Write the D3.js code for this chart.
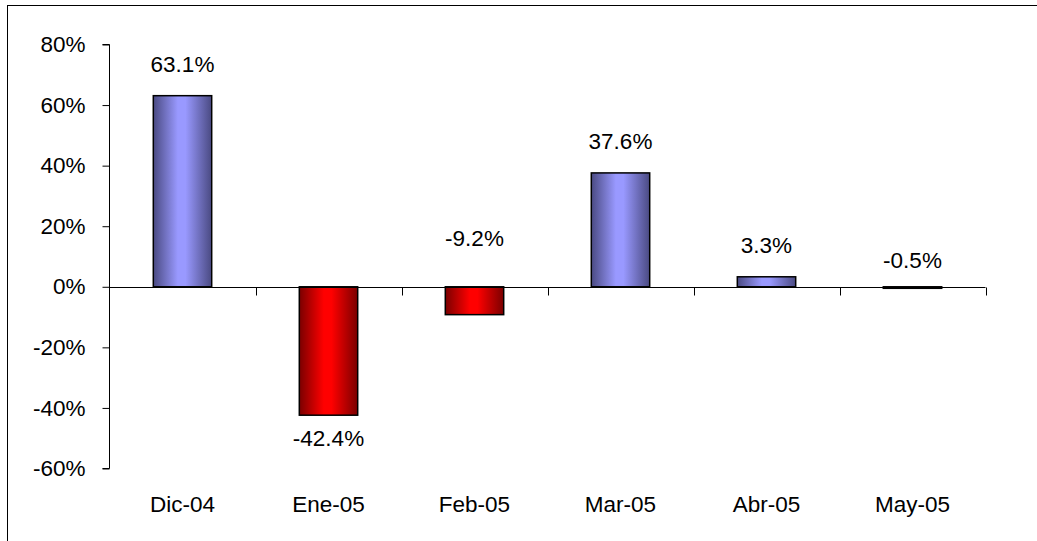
<!DOCTYPE html>
<html>
<head>
<meta charset="utf-8">
<script src="https://cdn.jsdelivr.net/npm/d3@7"></script>
<style>
  html, body { margin: 0; padding: 0; background: #fff; }
  svg { display: block; }
  text { font-family: Arial, "Liberation Sans", sans-serif; fill: #000; }
</style>
</head>
<body>
<svg id="chart" width="1037" height="541"></svg>
<script>
const categories = ["Dic-04", "Ene-05", "Feb-05", "Mar-05", "Abr-05", "May-05"];
const values = [63.1, -42.4, -9.2, 37.6, 3.3, -0.5];
const labels = ["63.1%", "-42.4%", "-9.2%", "37.6%", "3.3%", "-0.5%"];
// where each data label was placed on the chart, in % units (labels were hand-placed)
const labelAt = [63.1, -42.4, 5.6, 37.6, 3.3, -1.6];
const labelSide = ["above", "below", "above", "above", "above", "above"];
const yTicks = [80, 60, 40, 20, 0, -20, -40, -60];

const svg = d3.select("#chart");
const W = 1037, H = 541;

// outer chart border (extends past the right/bottom edge)
svg.append("rect")
  .attr("x", 7.5).attr("y", 5.5)
  .attr("width", W + 20).attr("height", H + 20)
  .attr("fill", "none").attr("stroke", "#000").attr("stroke-width", 1);

const plot = { left: 109.5, right: 985.5, top: 44.5, bottom: 468.5 };

const x = d3.scaleBand().domain(categories)
  .range([plot.left, plot.right]).paddingInner(0.6).paddingOuter(0.3);
const xb = d3.scaleBand().domain(categories).range([plot.left, plot.right]);
const y = d3.scaleLinear().domain([-60, 80]).range([plot.bottom, plot.top]);

// gradients
const defs = svg.append("defs");
function grad(id, dark, light) {
  const g = defs.append("linearGradient").attr("id", id)
    .attr("x1", "0").attr("x2", "1").attr("y1", "0").attr("y2", "0");
  g.append("stop").attr("offset", "0").attr("stop-color", dark);
  g.append("stop").attr("offset", "0.42").attr("stop-color", light);
  g.append("stop").attr("offset", "0.55").attr("stop-color", light);
  g.append("stop").attr("offset", "1").attr("stop-color", dark);
}
grad("gBlue", "#4a4a82", "#9999ff");
grad("gRed", "#7a0000", "#ff0000");

// y axis
const yAxis = d3.axisLeft(y).tickValues(yTicks).tickSize(7).tickPadding(17)
  .tickFormat(d => d + "%");
const ya = svg.append("g").attr("transform", `translate(${plot.left},0)`).call(yAxis);
ya.select(".domain").attr("stroke", "#000").attr("d", `M-7,${plot.top}H0V${plot.bottom}H-7`);
ya.selectAll(".tick line").attr("stroke", "#000");
ya.selectAll(".tick text").attr("font-size", 22.5)
  .attr("font-family", "Arial, 'Liberation Sans', sans-serif").attr("fill", "#000");

// bars
svg.append("g").selectAll("rect").data(values).join("rect")
  .attr("x", (d, i) => x(categories[i]))
  .attr("width", x.bandwidth())
  .attr("y", d => y(Math.max(0, d)))
  .attr("height", d => Math.abs(y(d) - y(0)))
  .attr("fill", d => d >= 0 ? "url(#gBlue)" : "url(#gRed)")
  .attr("stroke", "#000").attr("stroke-width", 1.5);

// x axis line at zero, with category boundary ticks hanging down
const y0 = Math.round(y(0)) + 0.5;
svg.append("line").attr("x1", plot.left).attr("x2", plot.right)
  .attr("y1", y0).attr("y2", y0).attr("stroke", "#000");
const bounds = categories.map(c => xb(c)).concat([plot.right]).slice(1);
svg.append("g").selectAll("line").data(bounds).join("line")
  .attr("x1", d => Math.round(d) + 0.5).attr("x2", d => Math.round(d) + 0.5)
  .attr("y1", y0).attr("y2", y0 + 8).attr("stroke", "#000");

// category labels
svg.append("g").selectAll("text").data(categories).join("text")
  .attr("x", d => xb(d) + xb.bandwidth() / 2)
  .attr("y", 512)
  .attr("text-anchor", "middle")
  .attr("font-size", 22.5)
  .text(d => d);

// data labels
svg.append("g").selectAll("text").data(labels).join("text")
  .attr("x", (d, i) => xb(categories[i]) + xb.bandwidth() / 2)
  .attr("y", (d, i) => labelSide[i] === "above" ? y(labelAt[i]) - 24 : y(labelAt[i]) + 31)
  .attr("text-anchor", "middle")
  .attr("font-size", 22.5)
  .text(d => d);
</script>
</body>
</html>
